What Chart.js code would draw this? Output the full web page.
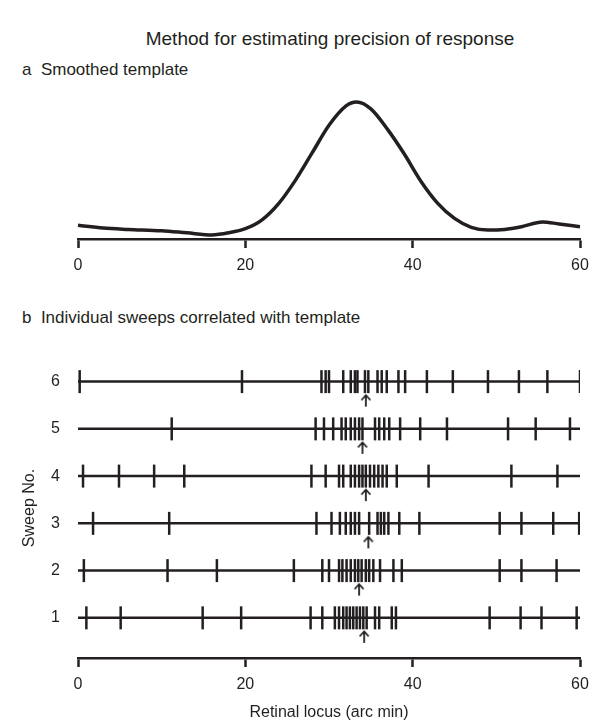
<!DOCTYPE html>
<html>
<head>
<meta charset="utf-8">
<script src="https://cdn.jsdelivr.net/npm/chart.js@4.4.1/dist/chart.umd.min.js"></script>
<style>
  body { margin: 0; background: #fff; }
  #page { position: relative; width: 610px; height: 725px; font-family: "Liberation Sans", Arial, sans-serif; color: #231f20; }
  .txt { position: absolute; white-space: nowrap; }
  canvas { position: absolute; left: 0; }
</style>
</head>
<body>
<div id="page">
  <div class="txt" style="top:28px; left:0; width:660px; text-align:center; font-size:19px;">Method for estimating precision of response</div>
  <div class="txt" style="top:60px; left:22px; font-size:17px;">a&nbsp;&nbsp;Smoothed template</div>
  <div class="txt" style="top:308px; left:22px; font-size:17px;">b&nbsp;&nbsp;Individual sweeps correlated with template</div>
  <canvas id="templateChart" width="610" height="290" style="top:0;"></canvas>
  <canvas id="sweepChart" width="610" height="435" style="top:290px;"></canvas>
</div>
<script>
// smoothed template (retinal locus, arc min) and its response level
var templateLocus = [0, 3, 6, 10, 13, 16, 18, 20, 22, 24, 26, 28, 30, 32, 33.3, 35, 37, 39, 41, 43, 45, 47, 49, 51, 53, 55.5, 57.5, 60];
var templateValue = [10, 8, 7, 6, 4.5, 3, 4.5, 7.5, 14, 26, 43, 63, 83, 97, 100, 95, 80, 62, 42, 26, 15, 8.5, 6.5, 7, 9, 12.5, 11, 9];

// spike loci for each sweep
var sweepNumbers = [1, 2, 3, 4, 5, 6];
var sweep1 = [1.0, 5.1, 14.9, 19.5, 27.8, 29.2, 30.7, 31.2, 31.7, 32.1, 32.5, 32.9, 33.3, 33.7, 34.1, 34.5, 35.5, 36.0, 37.5, 38.0, 49.2, 52.9, 55.4, 59.6];
var sweep2 = [0.7, 10.7, 16.6, 25.8, 29.2, 30.0, 31.2, 31.6, 32.1, 32.6, 33.1, 33.5, 33.9, 34.4, 34.8, 35.3, 36.1, 37.7, 38.7, 50.4, 53.0, 57.2];
var sweep3 = [1.8, 10.9, 28.5, 30.3, 31.3, 32.0, 32.6, 33.1, 33.6, 34.8, 35.8, 36.2, 36.6, 37.1, 38.4, 40.8, 50.4, 53.0, 56.8, 59.9];
var sweep4 = [0.6, 4.9, 9.1, 12.7, 27.9, 29.6, 31.2, 31.7, 32.6, 33.1, 33.6, 34.0, 34.4, 34.9, 35.4, 35.9, 36.4, 36.9, 38.1, 41.9, 51.8, 57.3];
var sweep5 = [11.2, 28.4, 29.4, 30.5, 31.5, 32.0, 32.6, 33.1, 33.6, 34.0, 35.5, 36.0, 36.6, 37.2, 38.5, 40.9, 44.1, 51.4, 54.7, 58.8];
var sweep6 = [0.2, 19.6, 29.1, 29.6, 30.0, 31.7, 32.6, 33.1, 33.4, 34.3, 34.7, 35.8, 36.3, 36.9, 38.3, 39.1, 41.7, 44.8, 49.0, 52.7, 56.1, 60.0];
var sweeps = [sweep1, sweep2, sweep3, sweep4, sweep5, sweep6];
// best-fit position of template for each sweep (arrows)
var arrowLocus = [34.2, 33.6, 34.7, 34.4, 34.0, 34.4];

var xTicks = [0, 20, 40, 60];

var ink = '#231f20';
var font = { family: '"Liberation Sans", Arial, sans-serif', size: 16 };

function locusAxis(extra) {
  var ax = {
    type: 'linear', min: 0, max: 60,
    afterBuildTicks: function (s) { s.ticks = xTicks.map(function (v) { return { value: v }; }); },
    grid: { display: true, drawOnChartArea: false, drawTicks: true, tickLength: 9, tickWidth: 2.5, tickColor: ink },
    border: { display: true, width: 2.5, color: ink },
    ticks: { color: ink, font: font, padding: 8, maxRotation: 0 }
  };
  return Object.assign(ax, extra || {});
}

new Chart(document.getElementById('templateChart'), {
  type: 'line',
  data: {
    datasets: [{
      data: templateLocus.map(function (x, i) { return { x: x, y: templateValue[i] }; }),
      borderColor: ink, borderWidth: 3.5, pointRadius: 0,
      cubicInterpolationMode: 'monotone', clip: 10
    }]
  },
  options: {
    responsive: false, animation: false,
    layout: { padding: { left: 78, right: 30, top: 102, bottom: 12 } },
    plugins: { legend: { display: false }, tooltip: { enabled: false } },
    scales: {
      x: locusAxis({ afterFit: function (s) { s.height = 39; } }),
      y: { display: false, min: 0, max: 100 }
    }
  }
});

// upward arrow used as point style, drawn below the point
var arrow = document.createElement('canvas');
arrow.width = 16; arrow.height = 52;
(function () {
  var c = arrow.getContext('2d');
  c.strokeStyle = ink; c.lineWidth = 1.8;
  c.beginPath();
  c.moveTo(8, 40); c.lineTo(8, 51);
  c.moveTo(3.5, 44.5); c.lineTo(8, 39.5); c.lineTo(12.5, 44.5);
  c.stroke();
})();

var datasets = [];
sweepNumbers.forEach(function (n, i) {
  datasets.push({
    data: [{ x: 0, y: n }, { x: 60, y: n }],
    showLine: true, borderColor: ink, borderWidth: 2.5, pointRadius: 0
  });
  datasets.push({
    data: sweeps[i].map(function (x) { return { x: x, y: n }; }),
    pointStyle: 'line', rotation: 90, pointRadius: 11.5,
    borderColor: ink, pointBorderWidth: 2.5
  });
});
datasets.push({
  data: arrowLocus.map(function (x, i) { return { x: x, y: sweepNumbers[i] }; }),
  pointStyle: arrow, pointRadius: 5
});

new Chart(document.getElementById('sweepChart'), {
  type: 'scatter',
  data: { datasets: datasets },
  options: {
    responsive: false, animation: false,
    layout: { padding: { left: 0, right: 30, top: 68, bottom: 1 } },
    plugins: { legend: { display: false }, tooltip: { enabled: false } },
    elements: { point: { borderColor: ink } },
    scales: {
      x: locusAxis({
        afterFit: function (s) { s.height = 66; },
        title: { display: true, text: 'Retinal locus (arc min)', color: ink, font: font, padding: { top: 4, bottom: 2 } }
      }),
      y: {
        type: 'linear', min: 0.15, max: 6.5,
        afterBuildTicks: function (s) { s.ticks = sweepNumbers.map(function (v) { return { value: v }; }); },
        afterFit: function (s) { s.width = 78; },
        grid: { display: false },
        border: { display: false },
        ticks: { color: ink, font: font, padding: 10 },
        title: { display: true, text: 'Sweep No.', color: ink, font: font, padding: { top: 20, bottom: 0 } }
      }
    }
  }
});
</script>
</body>
</html>
